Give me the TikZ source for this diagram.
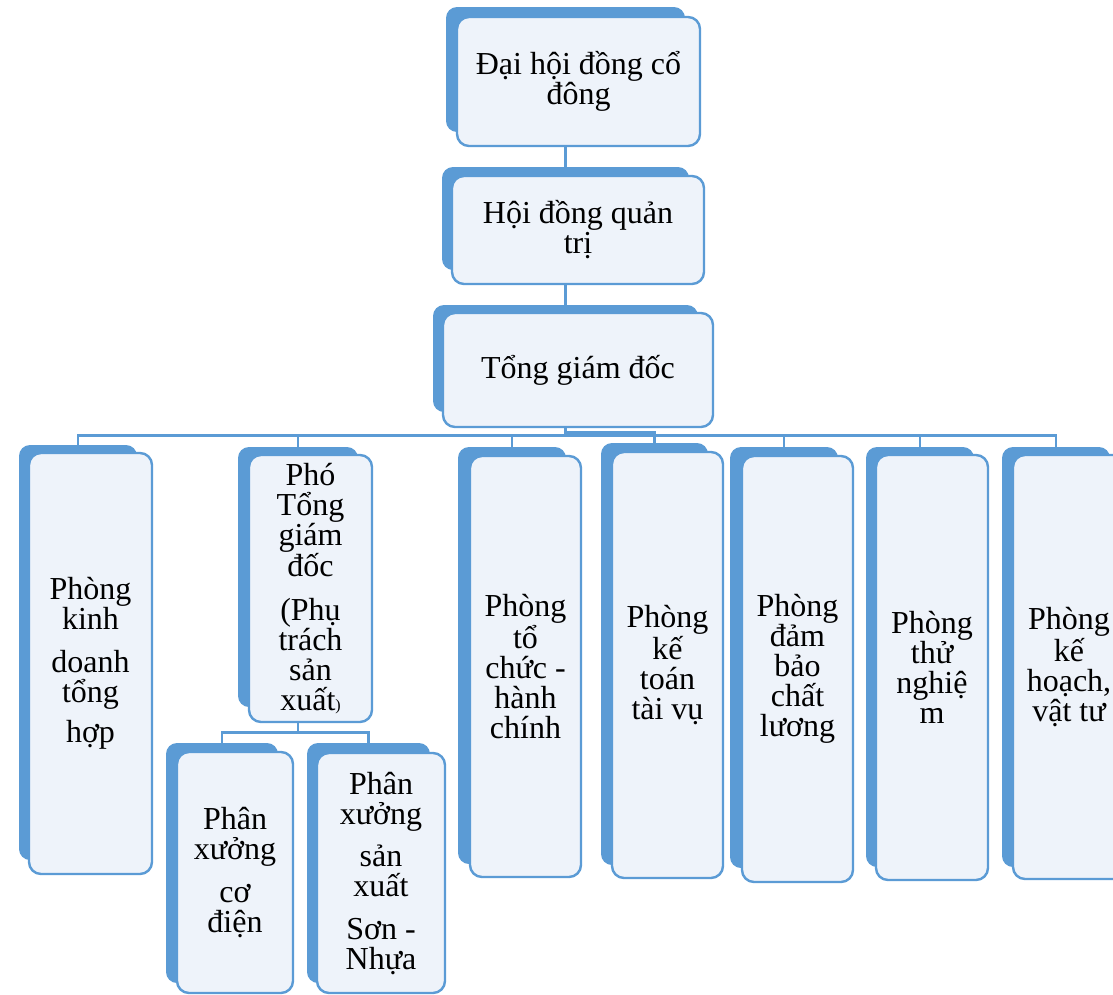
\documentclass[tikz,border=0pt]{standalone}
\usepackage{fontspec}
\setmainfont{Liberation Serif}
\definecolor{smartblue}{RGB}{91,155,213}
\definecolor{boxfill}{RGB}{238,243,250}

\begin{document}
\begin{tikzpicture}[x=1pt, y=-1pt, font=\fontsize{32}{30}\selectfont]
        \tikzset{
            backbox/.style={
                fill=smartblue,
                rounded corners=11pt,
                inner sep=0pt
            },
            frontbox/.style={
                draw=smartblue,
                line width=2.4pt,
                fill=boxfill,
                rounded corners=12pt,
                inner sep=0pt,
                align=center
            },
            link/.style={line width=2.6pt, draw=smartblue}
        }
        \useasboundingbox (0,0) rectangle (1113,994);
        \clip (0,0) rectangle (1113,994);

        % blue boxes behind
        \node[backbox, minimum width=239pt, minimum height=125pt] (dh) at (565.5,69.5) {};
        \node[backbox, minimum width=247pt, minimum height=103pt] (hd) at (565.5,218.5) {};
        \node[backbox, minimum width=265pt, minimum height=107pt] (tgd) at (565.5,358.5) {};
        \node[backbox, minimum width=118pt, minimum height=415pt] (kd) at (78,652.5) {};
        \node[backbox, minimum width=120pt, minimum height=260pt] (ptgd) at (298,577) {};
        \node[backbox, minimum width=108pt, minimum height=417pt] (tc) at (512,655.5) {};
        \node[backbox, minimum width=107pt, minimum height=422pt] (kt) at (654.5,654) {};
        \node[backbox, minimum width=108pt, minimum height=421pt] (db) at (784,657.5) {};
        \node[backbox, minimum width=108pt, minimum height=420pt] (tn) at (920,657) {};
        \node[backbox, minimum width=108pt, minimum height=420pt] (kh) at (1056,657) {};
        \node[backbox, minimum width=112pt, minimum height=240pt] (pxcd) at (222,863) {};
        \node[backbox, minimum width=123pt, minimum height=240pt] (pxsx) at (368.5,863) {};

        % connectors
        \draw[link] (dh.south) -- (hd.north);
        \draw[link] (hd.south) -- (tgd.north);
        \draw[link] (tgd.south) -- ++(0,23) -| (kd.north);
        \draw[link] (tgd.south) -- ++(0,23) -| (ptgd.north);
        \draw[link] (tgd.south) -- ++(0,23) -| (tc.north);
        \draw[link] (tgd.south) -- ++(0,20) -| (kt.north);
        \draw[link] (tgd.south) -- ++(0,23) -| (db.north);
        \draw[link] (tgd.south) -- ++(0,23) -| (tn.north);
        \draw[link] (tgd.south) -- ++(0,23) -| (kh.north);
        \draw[link] (ptgd.south) -- ++(0,25) -| (pxcd.north);
        \draw[link] (ptgd.south) -- ++(0,25) -| (pxsx.north);

        % boxes in front, with the texts
        \node[frontbox, minimum width=243pt, minimum height=129pt] (dhT) at (578.5,81.5)
            {Đại hội đồng cổ\\ đông};
        \node[frontbox, minimum width=252pt, minimum height=108pt] (hdT) at (578,230)
            {Hội đồng quản\\ trị};
        \node[frontbox, minimum width=270pt, minimum height=114pt] (tgdT) at (578,370)
            {Tổng giám đốc};
        \node[frontbox, minimum width=123pt, minimum height=421pt] (kdT) at (90.5,663.5)
            {Phòng\\ kinh\\[13pt] doanh\\ tổng\\[10pt] hợp};
        \node[frontbox, minimum width=123pt, minimum height=267pt] (ptgdT) at (310.5,588.5)
            {Phó\\ Tổng\\ giám\\ đốc\\[14pt] (Phụ\\ trách\\ sản\\ xuất{\fontsize{16}{16}\selectfont)}};
        \node[frontbox, minimum width=111pt, minimum height=421pt] (tcT) at (525.5,666.5)
            {Phòng\\ tổ\\ chức -\\ hành\\ chính};
        \node[frontbox, minimum width=111pt, minimum height=426pt] (ktT) at (667.5,665)
            {Phòng\\ kế\\ toán\\ tài vụ};
        \node[frontbox, minimum width=111pt, minimum height=426pt] (dbT) at (797.5,669)
            {Phòng\\ đảm\\ bảo\\ chất\\ lương};
        \node[frontbox, minimum width=112pt, minimum height=425pt] (tnT) at (932,667.5)
            {Phòng\\ thử\\ nghiệ\\ m};
        \node[frontbox, minimum width=112pt, minimum height=424pt] (khT) at (1069,667)
            {Phòng\\ kế\\ hoạch,\\ vật tư};
        \node[frontbox, minimum width=116pt, minimum height=241pt] (pxcdT) at (235,872.5)
            {Phân\\ xưởng\\[13pt] cơ\\ điện};
        \node[frontbox, minimum width=128pt, minimum height=240pt] (pxsxT) at (381,873)
            {Phân\\ xưởng\\[12pt] sản\\ xuất\\[13pt] Sơn -\\ Nhựa};
\end{tikzpicture}
\end{document}
